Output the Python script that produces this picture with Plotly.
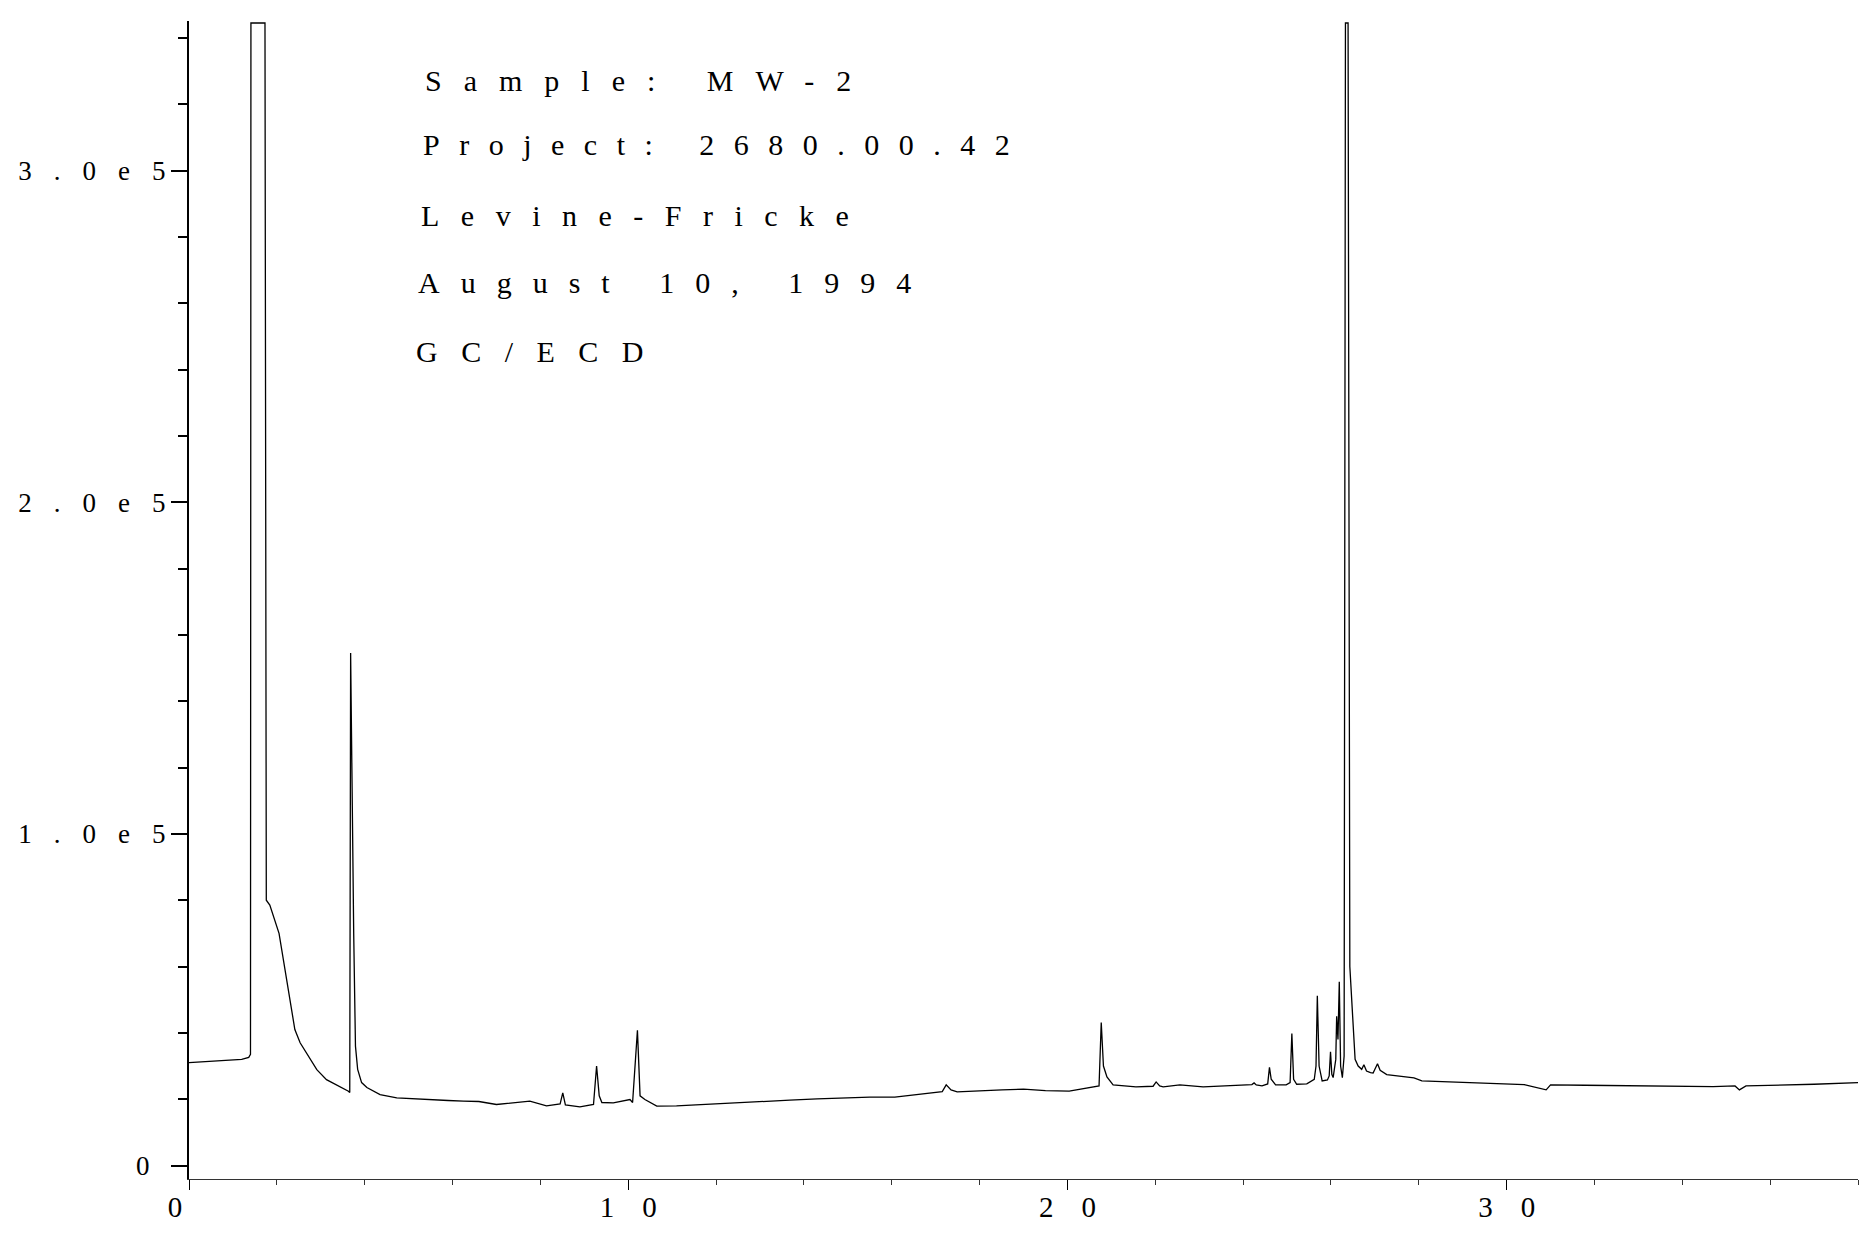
import plotly.graph_objects as go

# ---------------- data ----------------
time_min = [
    0.00, 0.30, 0.60, 0.90, 1.20, 1.36, 1.40, 1.41, 1.73, 1.76,
    1.84, 2.05, 2.30, 2.41, 2.53, 2.76, 2.91, 3.13, 3.36, 3.63,
    3.66, 3.68, 3.75, 3.79, 3.84, 3.93, 4.05, 4.35, 4.73, 5.10,
    5.49, 5.90, 6.25, 6.60, 7.00, 7.40, 7.76, 8.14, 8.45, 8.51,
    8.57, 8.90, 9.21, 9.28, 9.34, 9.40, 9.66, 10.04, 10.10, 10.21,
    10.27, 10.38, 10.65, 11.10, 11.45, 12.00, 12.41, 13.00, 13.68, 14.30,
    14.85, 15.50, 16.07, 16.78, 17.15, 17.24, 17.35, 17.49, 18.00, 18.51,
    19.00, 19.50, 20.04, 20.50, 20.72, 20.77, 20.82, 20.90, 21.04, 21.56,
    21.95, 22.02, 22.10, 22.18, 22.56, 23.09, 23.50, 23.79, 24.20, 24.25,
    24.30, 24.43, 24.56, 24.60, 24.64, 24.74, 24.98, 25.07, 25.11, 25.15,
    25.22, 25.45, 25.62, 25.66, 25.69, 25.73, 25.80, 25.92, 25.96, 25.99,
    26.02, 26.05, 26.11, 26.13, 26.16, 26.19, 26.22, 26.26, 26.30, 26.33,
    26.39, 26.43, 26.51, 26.55, 26.62, 26.70, 26.75, 26.81, 26.90, 26.96,
    27.06, 27.12, 27.27, 27.50, 27.89, 28.07, 28.50, 28.87, 29.35, 29.85,
    30.40, 30.90, 31.00, 31.78, 32.76, 33.74, 34.70, 35.20, 35.30, 35.45,
    36.18, 37.00, 38.00,
]

signal = [
    31000, 31200, 31400, 31600, 32000, 32600, 33500, 344500, 344500, 80000,
    78500, 70000, 50000, 41000, 37000, 32000, 28900, 25900, 24400, 22400,
    22000, 154500, 70000, 36000, 29000, 25000, 23500, 21400, 20400, 20100,
    19900, 19600, 19400, 19300, 18400, 18900, 19400, 18000, 18600, 21900,
    18300, 17700, 18400, 30000, 21000, 19000, 18900, 19900, 19000, 40800,
    21000, 19900, 17900, 18000, 18200, 18600, 18800, 19300, 19700, 20100,
    20400, 20600, 20600, 21800, 22300, 24300, 22800, 22200, 22600, 22800,
    23000, 22600, 22400, 23600, 24000, 43100, 30000, 26700, 24300, 23700,
    23900, 25200, 24000, 23700, 24300, 23700, 24000, 24300, 24400, 24900,
    24300, 24000, 24600, 29600, 26000, 24300, 24300, 25000, 39800, 26000,
    24500, 24600, 26000, 30000, 51200, 30000, 25500, 25800, 27000, 34300,
    27500, 26500, 32000, 45000, 38000, 55400, 30000, 26500, 33000, 344500,
    344500, 60000, 40000, 32000, 30000, 29000, 30400, 28500, 28000, 27900,
    30700, 28700, 27400, 27000, 26400, 25500, 25300, 25200, 25000, 24600,
    24400, 22800, 24300, 24200, 24100, 24000, 23800, 24000, 22800, 24000,
    24200, 24500, 25000,
]

y_tick_values = [0, 100000, 200000, 300000]
y_tick_labels = ["0", "1.0e5", "2.0e5", "3.0e5"]
x_tick_values = [0, 10, 20, 30]
x_tick_labels = ["0", "10", "20", "30"]

header_lines = [
    "Sample: MW-2",
    "Project: 2680.00.42",
    "Levine-Fricke",
    "August 10, 1994",
    "GC/ECD",
]

# ---------------- layout geometry (pixels) ----------------
W, H = 1871, 1233
PLOT_L, PLOT_R, PLOT_T, PLOT_B = 189, 1858, 21, 1179
FONT = "Liberation Serif"


def spaced(text, px, trailing=False):
    """Wide plotter-style lettering using CSS letter-spacing."""
    if trailing or len(text) == 1:
        return f'<span style="letter-spacing:{px}px">{text}</span>'
    return f'<span style="letter-spacing:{px}px">{text[:-1]}</span>{text[-1]}'


header_left_px = [423, 421, 419, 416, 414]
header_mid_px = [81, 145, 215, 283, 351]
header_spacing_px = [22, 19.5, 21.5, 21, 23.5]

fig = go.Figure()
fig.add_trace(go.Scatter(
    x=time_min, y=signal, mode="lines",
    line=dict(color="black", width=1.3),
    hoverinfo="skip", showlegend=False,
))

annotations = []
for txt, xl, ym, ls in zip(header_lines, header_left_px, header_mid_px, header_spacing_px):
    annotations.append(dict(
        text=spaced(txt, ls),
        xref="paper", yref="paper",
        x=(xl - PLOT_L) / (PLOT_R - PLOT_L),
        y=(PLOT_B - ym) / (PLOT_B - PLOT_T),
        xanchor="left", yanchor="middle",
        showarrow=False,
        font=dict(family=FONT, size=30, color="black"),
    ))

y_ticktext = [spaced(t, 16, trailing=True) if len(t) == 1 else spaced(t, 22) for t in y_tick_labels]
x_ticktext = [spaced(t, 28) for t in x_tick_labels]

fig.update_layout(
    template="none",
    width=W, height=H,
    margin=dict(l=PLOT_L, r=W - PLOT_R, t=PLOT_T, b=H - PLOT_B, pad=0, autoexpand=False),
    paper_bgcolor="white", plot_bgcolor="white",
    showlegend=False,
    annotations=annotations,
    xaxis=dict(
        range=[0, 38], automargin=False,
        showgrid=False, zeroline=False,
        showline=True, linecolor="#333", linewidth=1,
        tickmode="array", tickvals=x_tick_values, ticktext=x_ticktext,
        ticks="outside", ticklen=10, tickwidth=1.2, tickcolor="black",
        ticklabelstandoff=-8,
        tickfont=dict(family=FONT, size=29, color="black"),
        minor=dict(tickmode="linear", tick0=0, dtick=2, ticks="outside",
                   ticklen=5, tickwidth=1, tickcolor="#333"),
    ),
    yaxis=dict(
        range=[-4070, 345100], automargin=False,
        showgrid=False, zeroline=False,
        showline=True, linecolor="black", linewidth=2,
        tickmode="array", tickvals=y_tick_values, ticktext=y_ticktext,
        ticks="outside", ticklen=16, tickwidth=2, tickcolor="black",
        tickfont=dict(family=FONT, size=27, color="black"),
        minor=dict(tickmode="linear", tick0=0, dtick=20000, ticks="outside",
                   ticklen=9, tickwidth=1.5, tickcolor="black"),
    ),
)

fig.write_html(
    "out.html",
    config={"displayModeBar": False},
    post_script="document.body.style.margin='0px';document.body.style.overflow='hidden';",
)
